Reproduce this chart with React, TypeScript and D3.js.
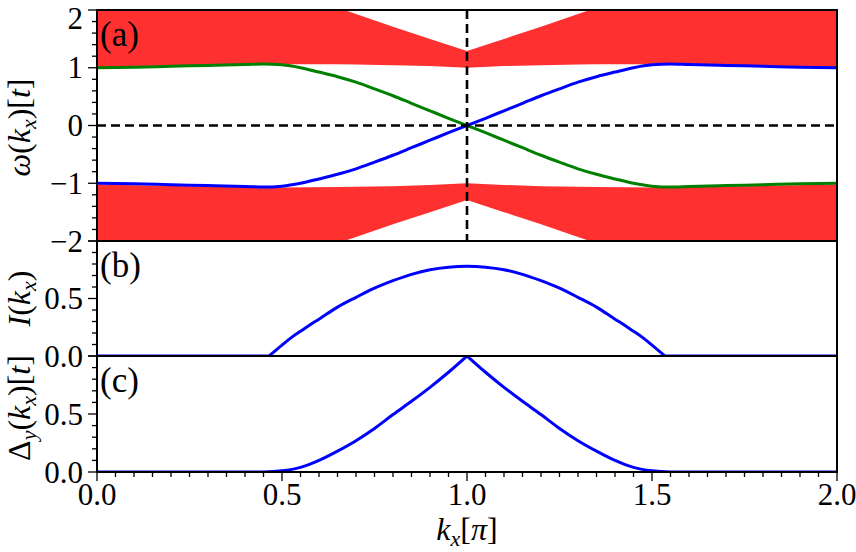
import React from 'react';
import * as d3 from 'd3';

const W = 856;
const H = 552;

// Panel (a): dispersion
const kOmega = [0, 0.1, 0.2, 0.3, 0.4, 0.45, 0.5, 0.55, 0.6, 0.65, 0.7, 0.75, 0.8, 0.85, 0.9, 0.95, 1.0,
  1.05, 1.1, 1.15, 1.2, 1.25, 1.3, 1.35, 1.4, 1.45, 1.5, 1.55, 1.6, 1.7, 1.8, 1.9, 2.0];
const omegaBlue = [-1.0, -1.01, -1.025, -1.04, -1.055, -1.065, -1.05, -1.0, -0.925, -0.845, -0.75, -0.635, -0.515, -0.385, -0.255, -0.125, 0,
  0.125, 0.255, 0.385, 0.515, 0.635, 0.75, 0.845, 0.925, 1.0, 1.05, 1.065, 1.055, 1.04, 1.025, 1.01, 1.0];
const omegaGreen = [1.0, 1.01, 1.025, 1.04, 1.055, 1.065, 1.05, 1.0, 0.925, 0.845, 0.75, 0.635, 0.515, 0.385, 0.255, 0.125, 0,
  -0.125, -0.255, -0.385, -0.515, -0.635, -0.75, -0.845, -0.925, -1.0, -1.05, -1.065, -1.055, -1.04, -1.025, -1.01, -1.0];

const kBand = [0, 0.25, 0.5, 0.65, 0.7, 0.8, 0.9, 1.0, 1.1, 1.2, 1.3, 1.35, 1.5, 1.75, 2.0];
const upperBandInner = [1.0, 1.03, 1.06, 1.06, 1.055, 1.045, 1.03, 1.0, 1.03, 1.045, 1.055, 1.06, 1.06, 1.03, 1.0];
const upperBandOuter = [3.0, 2.8, 2.35, 2.04, 1.93, 1.71, 1.5, 1.29, 1.5, 1.71, 1.93, 2.04, 2.35, 2.8, 3.0];
const lowerBandInner = [-1.02, -1.05, -1.075, -1.065, -1.06, -1.05, -1.03, -1.0, -1.03, -1.05, -1.06, -1.065, -1.075, -1.05, -1.02];
const lowerBandOuter = [-3.0, -2.8, -2.35, -2.04, -1.93, -1.71, -1.5, -1.29, -1.5, -1.71, -1.93, -2.04, -2.35, -2.8, -3.0];

// Panel (b)
const kI = [0, 0.2, 0.4, 0.465, 0.5, 0.525, 0.55, 0.575, 0.6, 0.65, 0.7, 0.75, 0.8, 0.85, 0.9, 0.95, 1.0,
  1.05, 1.1, 1.15, 1.2, 1.25, 1.3, 1.35, 1.4, 1.425, 1.45, 1.475, 1.5, 1.535, 1.6, 1.8, 2.0];
const currentI = [0, 0, 0, 0, 0.095, 0.16, 0.215, 0.27, 0.32, 0.425, 0.51, 0.59, 0.655, 0.71, 0.75, 0.772, 0.78,
  0.772, 0.75, 0.71, 0.655, 0.59, 0.51, 0.425, 0.32, 0.27, 0.215, 0.16, 0.095, 0, 0, 0, 0];
const breaksI = [0.465, 1.535];

// Panel (c)
const kDelta = [0, 0.2, 0.4, 0.45, 0.5, 0.55, 0.6, 0.65, 0.7, 0.75, 0.8, 0.85, 0.9, 0.95, 1.0,
  1.05, 1.1, 1.15, 1.2, 1.25, 1.3, 1.35, 1.4, 1.45, 1.5, 1.55, 1.6, 1.8, 2.0];
const gapDelta = [0, 0, 0, 0, 0.01, 0.04, 0.10, 0.18, 0.27, 0.375, 0.495, 0.61, 0.73, 0.86, 1.0,
  0.86, 0.73, 0.61, 0.495, 0.375, 0.27, 0.18, 0.10, 0.04, 0.01, 0, 0, 0, 0];
const breaksDelta = [1.0];

// Ticks
const xMajor = [0, 0.5, 1.0, 1.5, 2.0];
const xMajorLabels = ['0.0', '0.5', '1.0', '1.5', '2.0'];
const omegaMajor = [-2, -1, 0, 1, 2];
const omegaLabels = ['\u22122', '\u22121', '0', '1', '2'];
const unitMajor = [0, 0.5, 1.0];
const unitLabels = ['0.0', '0.5', ''];

const FONT = '"Liberation Serif", "DejaVu Serif", serif';
const RED = '#ff3030';

function splitAt(ks: number[], vs: number[], breaks: number[]) {
  const segs: [number, number][][] = [];
  let cur: [number, number][] = [];
  ks.forEach((k, i) => {
    cur.push([k, vs[i]]);
    if (breaks.some(b => Math.abs(b - k) < 1e-9)) {
      segs.push(cur);
      cur = [[k, vs[i]]];
    }
  });
  if (cur.length > 1) segs.push(cur);
  return segs;
}

export default function App() {
  const L = 97, R = 837;
  const aTop = 10, aBot = 241, bBot = 356, cBot = 472;
  const x = d3.scaleLinear().domain([0, 2]).range([L, R]);
  const ya = d3.scaleLinear().domain([-2, 2]).range([aBot, aTop]);
  const yb = d3.scaleLinear().domain([0, 1]).range([bBot, aBot]);
  const yc = d3.scaleLinear().domain([0, 1]).range([cBot, bBot]);

  const lineA = d3.line<[number, number]>().x(d => x(d[0])).y(d => ya(d[1])).curve(d3.curveMonotoneX);
  const lineB = d3.line<[number, number]>().x(d => x(d[0])).y(d => yb(d[1])).curve(d3.curveMonotoneX);
  const lineC = d3.line<[number, number]>().x(d => x(d[0])).y(d => yc(d[1])).curve(d3.curveMonotoneX);
  const upperArea = d3.area<number>().x((_, i) => x(kBand[i]))
    .y0((_, i) => ya(upperBandInner[i])).y1((_, i) => ya(upperBandOuter[i]))(kBand) || '';
  const lowerArea = d3.area<number>().x((_, i) => x(kBand[i]))
    .y0((_, i) => ya(lowerBandInner[i])).y1((_, i) => ya(lowerBandOuter[i]))(kBand) || '';

  const blue = lineA(kOmega.map((k, i) => [k, omegaBlue[i]] as [number, number])) || '';
  const green = lineA(kOmega.map((k, i) => [k, omegaGreen[i]] as [number, number])) || '';
  const iSegs = splitAt(kI, currentI, breaksI);
  const dSegs = splitAt(kDelta, gapDelta, breaksDelta);

  const isMajor = (v: number, majors: number[]) => majors.some(m => Math.abs(m - v) < 1e-9);
  const xMinor = x.ticks(40).filter(v => !isMajor(v, xMajor));
  const aMinor = ya.ticks(16).filter(v => !isMajor(v, omegaMajor));
  const bMinor = yb.ticks(10).filter(v => !isMajor(v, unitMajor));

  const MAJ = 9, MIN = 5, TW = 1.3;
  const tickFont = 31;

  const yTicks = (scale: d3.ScaleLinear<number, number>, majors: number[], labels: string[], minors: number[], key: string) => (
    <g key={key}>
      {majors.map((v, i) => (
        <g key={'M' + i}>
          <line x1={L - MAJ} x2={L} y1={scale(v)} y2={scale(v)} stroke="black" strokeWidth={TW} />
          {labels[i] && (
            <text x={L - 14} y={Math.max(scale(v), 18)} textAnchor="end" dominantBaseline="central" fontSize={tickFont} fontFamily={FONT}>{labels[i]}</text>
          )}
        </g>
      ))}
      {minors.map((v, i) => (
        <line key={'m' + i} x1={L - MIN} x2={L} y1={scale(v)} y2={scale(v)} stroke="black" strokeWidth={TW} />
      ))}
    </g>
  );

  const sub = 22;
  return (
    <svg width={W} height={H} style={{ position: 'absolute', left: 0, top: 0, background: 'white' }}>
      <defs>
        <clipPath id="clipA"><rect x={L} y={aTop} width={R - L} height={aBot - aTop} /></clipPath>
        <clipPath id="clipB"><rect x={L} y={aBot} width={R - L} height={bBot - aBot} /></clipPath>
        <clipPath id="clipC"><rect x={L} y={bBot} width={R - L} height={cBot - bBot} /></clipPath>
      </defs>
      <rect x={0} y={0} width={W} height={H} fill="white" />

      {/* Panel a */}
      <g clipPath="url(#clipA)">
        <path d={upperArea} fill={RED} stroke="none" />
        <path d={lowerArea} fill={RED} stroke="none" />
        <path d={green} fill="none" stroke="#008000" strokeWidth={3} />
        <path d={blue} fill="none" stroke="#0000ff" strokeWidth={3} />
        <line x1={L} x2={R} y1={ya(0)} y2={ya(0)} stroke="black" strokeWidth={2.6} strokeDasharray="9,5" />
        <line x1={x(1)} x2={x(1)} y1={aTop} y2={aBot} stroke="black" strokeWidth={2.6} strokeDasharray="9,5" />
      </g>

      {/* Panel b */}
      <g clipPath="url(#clipB)">
        {iSegs.map((s, i) => <path key={i} d={lineB(s) || ''} fill="none" stroke="#0000ff" strokeWidth={3} />)}
      </g>

      {/* Panel c */}
      <g clipPath="url(#clipC)">
        {dSegs.map((s, i) => <path key={i} d={lineC(s) || ''} fill="none" stroke="#0000ff" strokeWidth={3} />)}
      </g>

      {/* Frames */}
      <rect x={L} y={aTop} width={R - L} height={aBot - aTop} fill="none" stroke="black" strokeWidth={2} />
      <rect x={L} y={aBot} width={R - L} height={bBot - aBot} fill="none" stroke="black" strokeWidth={2} />
      <rect x={L} y={bBot} width={R - L} height={cBot - bBot} fill="none" stroke="black" strokeWidth={2} />

      {/* y ticks */}
      {yTicks(ya, omegaMajor, omegaLabels, aMinor, 'ya')}
      {yTicks(yb, unitMajor, unitLabels, bMinor, 'yb')}
      {yTicks(yc, unitMajor, unitLabels, bMinor, 'yc')}

      {/* x ticks */}
      {xMajor.map((v, i) => (
        <g key={'xM' + i}>
          <line x1={x(v)} x2={x(v)} y1={cBot} y2={cBot + MAJ} stroke="black" strokeWidth={TW} />
          <text x={x(v)} y={cBot + 33} textAnchor="middle" fontSize={tickFont} fontFamily={FONT}>{xMajorLabels[i]}</text>
        </g>
      ))}
      {xMinor.map((v, i) => (
        <line key={'xm' + i} x1={x(v)} x2={x(v)} y1={cBot} y2={cBot + MIN} stroke="black" strokeWidth={TW} />
      ))}

      {/* Panel labels */}
      <text x={100} y={aTop + 36} fontSize={35} fontFamily={FONT}>(a)</text>
      <text x={100} y={aBot + 36} fontSize={35} fontFamily={FONT}>(b)</text>
      <text x={100} y={bBot + 36} fontSize={35} fontFamily={FONT}>(c)</text>

      {/* Axis labels */}
      <text transform={`translate(30, ${(aTop + aBot) / 2 + 2}) rotate(-90)`} textAnchor="middle" fontSize={32} fontFamily={FONT}>
        <tspan fontStyle="italic">ω</tspan>(<tspan fontStyle="italic">k</tspan><tspan fontStyle="italic" fontSize={sub} dy={6}>x</tspan><tspan dy={-6}>)[</tspan><tspan fontStyle="italic">t</tspan>]
      </text>
      <text transform={`translate(30, ${(aBot + bBot) / 2}) rotate(-90)`} textAnchor="middle" fontSize={32} fontFamily={FONT}>
        <tspan fontStyle="italic">I</tspan>(<tspan fontStyle="italic">k</tspan><tspan fontStyle="italic" fontSize={sub} dy={6}>x</tspan><tspan dy={-6}>)</tspan>
      </text>
      <text transform={`translate(30, ${(bBot + cBot) / 2 - 6}) rotate(-90)`} textAnchor="middle" fontSize={32} fontFamily={FONT}>
        Δ<tspan fontStyle="italic" fontSize={sub} dy={6}>y</tspan><tspan dy={-6}>(</tspan><tspan fontStyle="italic">k</tspan><tspan fontStyle="italic" fontSize={sub} dy={6}>x</tspan><tspan dy={-6}>)[</tspan><tspan fontStyle="italic">t</tspan>]
      </text>
      <text x={(L + R) / 2} y={540} textAnchor="middle" fontSize={32} fontFamily={FONT}>
        <tspan fontStyle="italic">k</tspan><tspan fontStyle="italic" fontSize={sub} dy={6}>x</tspan><tspan dy={-6}>[</tspan><tspan fontStyle="italic">π</tspan>]
      </text>
    </svg>
  );
}
